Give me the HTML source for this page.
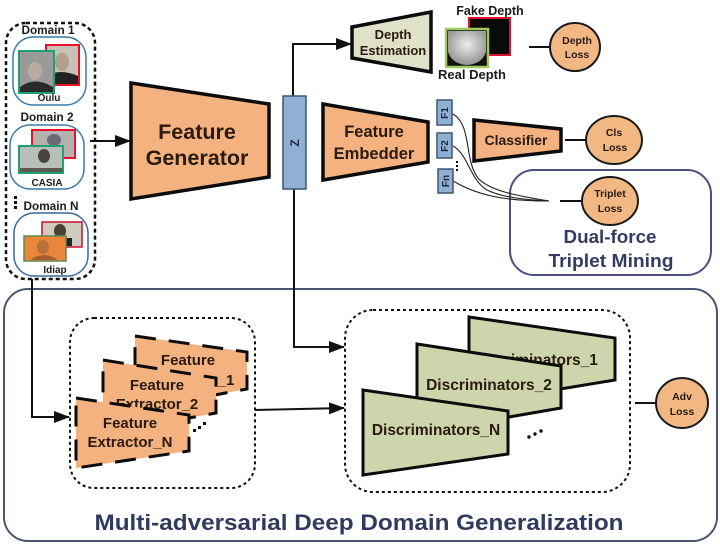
<!DOCTYPE html>
<html><head><meta charset="utf-8"><style>
html,body{margin:0;padding:0;background:#fff;width:720px;height:544px;overflow:hidden}
svg{display:block}
text{font-family:"Liberation Sans",sans-serif;font-weight:bold;text-anchor:middle;fill:#2a1a10}
.k{fill:#1c1c1c}
.o{fill:#f3b27f;stroke:#0c0c0c}
.g{fill:#cdd5ac;stroke:#0c0c0c;stroke-width:3}
.c{fill:#f1b884;stroke:#1a1a1a;stroke-width:2}
.l{stroke:#111;fill:none;stroke-width:2}
.b{fill:#8fb0d3;stroke:#3c5570;stroke-width:1.5}
</style></head><body>
<svg width="720" height="544" viewBox="0 0 720 544" xmlns="http://www.w3.org/2000/svg">
<defs><marker id="a2" markerWidth="16" markerHeight="12" refX="15" refY="6" orient="auto" markerUnits="userSpaceOnUse"><path d="M0 0L16 6L0 12Z" fill="#111"/></marker></defs>

<!-- containers -->
<rect x="4" y="289" width="713" height="252" rx="24" fill="#fff" stroke="#4a5570" stroke-width="2"/>
<rect x="510" y="170" width="201" height="105" rx="24" fill="#fff" stroke="#4a5080" stroke-width="2"/>

<!-- left domain panel -->
<rect x="6" y="23" width="89" height="256" rx="20" fill="#fff" stroke="#111" stroke-width="2.5" stroke-dasharray="4 3"/>

<!-- connectors -->
<path class="l" d="M90 141H130" marker-end="url(#a2)"/>
<path class="l" d="M293 96V44H351" marker-end="url(#a2)"/>
<path class="l" d="M294 189V347H344" marker-end="url(#a2)"/>
<path class="l" d="M32 279V417H69" marker-end="url(#a2)"/>
<path class="l" d="M255 410L344 408" marker-end="url(#a2)"/>
<path class="l" d="M529 47H550"/><path class="l" d="M565 140H587"/><path class="l" d="M560 201H583"/><path class="l" d="M635 403H657"/>
<g fill="none" stroke="#222" stroke-width="1.1">
<path d="M453 114C472 125 464 160 478 178C490 192 525 197 549 201"/>
<path d="M453 146C468 154 470 180 487 190C503 198 530 200 549 201"/>
<path d="M453 181C475 194 500 201 549 201"/></g>

<rect x="13" y="37" width="73" height="68" rx="20" fill="#fff" stroke="#3a7aa8" stroke-width="1.5"/>
<rect x="10" y="125" width="74" height="64" rx="20" fill="#fff" stroke="#3a7aa8" stroke-width="1.5"/>
<rect x="14" y="213" width="74" height="63" rx="20" fill="#fff" stroke="#3a6a98" stroke-width="1.5"/>

<!-- domain 1 -->
<rect x="46" y="45" width="33" height="40" fill="#c9c0b6" stroke="#e8102a" stroke-width="2"/>
<ellipse cx="62" cy="62" rx="7" ry="9" fill="#b39f90"/><path d="M47 84V76Q60 68 78 76V84Z" fill="#222"/>
<rect x="19" y="51" width="35" height="42" fill="#9a9a98" stroke="#20a070" stroke-width="2"/>
<ellipse cx="35" cy="71" rx="7" ry="9" fill="#b8aca2"/><path d="M20 92V87Q35 76 53 87V92Z" fill="#2a2a2a"/>
<!-- domain 2 -->
<rect x="32" y="130" width="43" height="28" fill="#b4b2ae" stroke="#e8102a" stroke-width="2"/>
<ellipse cx="54" cy="140" rx="7" ry="6" fill="#6a6a78"/>
<rect x="19" y="146" width="44" height="27" fill="#b8beb8" stroke="#20a070" stroke-width="2"/>
<ellipse cx="44" cy="156" rx="6" ry="7" fill="#4a4440"/><path d="M20 172V168H62V172Z" fill="#5a5a50"/>
<!-- domain N -->
<rect x="42" y="222" width="40" height="25" fill="#d0ccc0" stroke="#c81030" stroke-width="1.5"/>
<ellipse cx="60" cy="231" rx="6" ry="7" fill="#4a4238"/><path d="M54 246V238H72V246Z" fill="#222"/>
<rect x="24" y="236" width="42" height="25" fill="#e8863c" stroke="#5f8a50" stroke-width="1.5"/>
<ellipse cx="43" cy="247" rx="6" ry="7" fill="#b8703a"/><path d="M30 260Q44 250 58 260Z" fill="#a85f2c"/>

<g font-size="11.8">
<text x="48" y="34" class="k">Domain 1</text>
<text x="47" y="121" class="k">Domain 2</text>
<text x="51" y="210" class="k">Domain N</text></g>
<g font-size="10">
<text x="49" y="101" class="k">Oulu</text>
<text x="47" y="186" class="k">CASIA</text>
<text x="55" y="273" class="k">Idiap</text></g>
<g fill="#111"><rect x="14" y="196" width="3" height="3"/><rect x="14" y="201" width="3" height="3"/><rect x="14" y="206" width="3" height="3"/></g>

<!-- feature generator -->
<polygon class="o" stroke-width="3.5" points="131,83 269,104 269,177 131,199"/>
<text x="197" y="139" font-size="21.5">Feature</text>
<text x="197" y="165" font-size="21.5">Generator</text>

<!-- Z -->
<rect class="b" x="283" y="96" width="23" height="93"/>
<text transform="translate(299,143) rotate(-90)" font-size="12" style="fill:#1c2a40">Z</text>

<!-- depth -->
<polygon points="352,27 431,12 431,72 352,58" fill="#dfe2c8" stroke="#0c0c0c" stroke-width="3.5"/>
<text x="393" y="39" font-size="13">Depth</text>
<text x="393" y="55" font-size="13">Estimation</text>
<rect x="469" y="18" width="41" height="37" fill="#0a0a0a" stroke="#e01030" stroke-width="2"/>
<defs><radialGradient id="d" cx="50%" cy="40%" r="55%"><stop offset="0" stop-color="#ececec"/><stop offset="1" stop-color="#9a9a9a"/></radialGradient></defs>
<rect x="446" y="29" width="42" height="38" fill="#111" stroke="#a0c860" stroke-width="2.5"/>
<path d="M448 31H486V52Q482 64 467 65Q452 64 448 52Z" fill="url(#d)"/>
<text x="490" y="15" font-size="12.5" class="k">Fake Depth</text>
<text x="472" y="79" font-size="13" class="k">Real Depth</text>
<ellipse class="c" cx="575" cy="47" rx="25" ry="24"/>
<text x="577" y="44" font-size="10.5">Depth</text><text x="577" y="58" font-size="10.5">Loss</text>

<!-- embedder -->
<polygon class="o" stroke-width="3.5" points="323,104 428,122 428,162 323,180"/>
<text x="374" y="137" font-size="16.5">Feature</text>
<text x="374" y="159" font-size="16.5">Embedder</text>

<!-- F bars -->
<rect class="b" x="437" y="100" width="15" height="25"/>
<rect class="b" x="437" y="133" width="15" height="25"/>
<rect class="b" x="438" y="169" width="15" height="24"/>
<g font-size="10">
<text transform="translate(448,113) rotate(-90)" style="fill:#1c2a40">F1</text>
<text transform="translate(448,146) rotate(-90)" style="fill:#1c2a40">F2</text>
<text transform="translate(449,181) rotate(-90)" style="fill:#1c2a40">Fn</text></g>
<g fill="#111"><rect x="456" y="161" width="2" height="2"/><rect x="456" y="165" width="2" height="2"/><rect x="456" y="169" width="2" height="2"/></g>

<!-- classifier -->
<polygon class="o" stroke-width="3.5" points="474,120 561,129 561,151 474,161"/>
<text x="516" y="145" font-size="14">Classifier</text>
<ellipse class="c" cx="614" cy="140" rx="28" ry="24"/>
<text x="614" y="136" font-size="10.5">Cls</text><text x="615" y="151" font-size="10.5">Loss</text>
<ellipse class="c" cx="610" cy="201" rx="28" ry="24"/>
<text x="610" y="197" font-size="10.5">Triplet</text><text x="610" y="212" font-size="10.5">Loss</text>
<text x="610" y="243" font-size="18" textLength="93" lengthAdjust="spacingAndGlyphs" style="fill:#333d63">Dual-force</text>
<text x="611" y="267" font-size="18" textLength="125" lengthAdjust="spacingAndGlyphs" style="fill:#333d63">Triplet Mining</text>

<!-- extractor panel -->
<rect x="70" y="318" width="185" height="170" rx="24" fill="#fff" stroke="#111" stroke-width="2" stroke-dasharray="3 3"/>
<g stroke-width="3" stroke-dasharray="21 13">
<polygon class="o" points="135,336 247,352 247,389 135,410"/>
<text x="188" y="365" font-size="15">Feature</text>
<text x="226" y="385" font-size="15">_1</text>
<polygon class="o" points="103,360 216,378 216,413 103,434"/>
<text x="157" y="390" font-size="15">Feature</text>
<text x="157" y="409" font-size="15">Extractor_2</text>
<polygon class="o" points="76,398 189,415 189,451 76,468"/>
<text x="130" y="428" font-size="15">Feature</text>
<text x="130" y="447" font-size="15">Extractor_N</text>
</g>
<g fill="#111"><rect x="193" y="429" width="3" height="3"/><rect x="198" y="426" width="3" height="3"/><rect x="203" y="422" width="3" height="3"/></g>

<!-- discriminator panel -->
<rect x="345" y="310" width="285" height="182" rx="28" fill="#fff" stroke="#111" stroke-width="2" stroke-dasharray="3 3"/>
<polygon class="g" points="469,317 615,338 615,380 469,404"/>
<text x="535" y="365" font-size="15.5">Discriminators_1</text>
<polygon class="g" points="417,344 561,366 561,408 417,433"/>
<text x="489" y="390" font-size="15.5">Discriminators_2</text>
<polygon class="g" points="363,390 508,411 508,454 363,475"/>
<text x="436" y="435" font-size="15.5">Discriminators_N</text>
<g fill="#111"><circle cx="529" cy="437" r="1.7"/><circle cx="535" cy="434" r="1.7"/><circle cx="541" cy="431" r="1.7"/></g>
<ellipse class="c" cx="682" cy="403" rx="26" ry="25"/>
<text x="682" y="400" font-size="10.5">Adv</text><text x="682" y="415" font-size="10.5">Loss</text>

<text x="359" y="530" font-size="22" textLength="529" lengthAdjust="spacingAndGlyphs" style="fill:#2f3b5e">Multi-adversarial Deep Domain Generalization</text>
</svg>
</body></html>
